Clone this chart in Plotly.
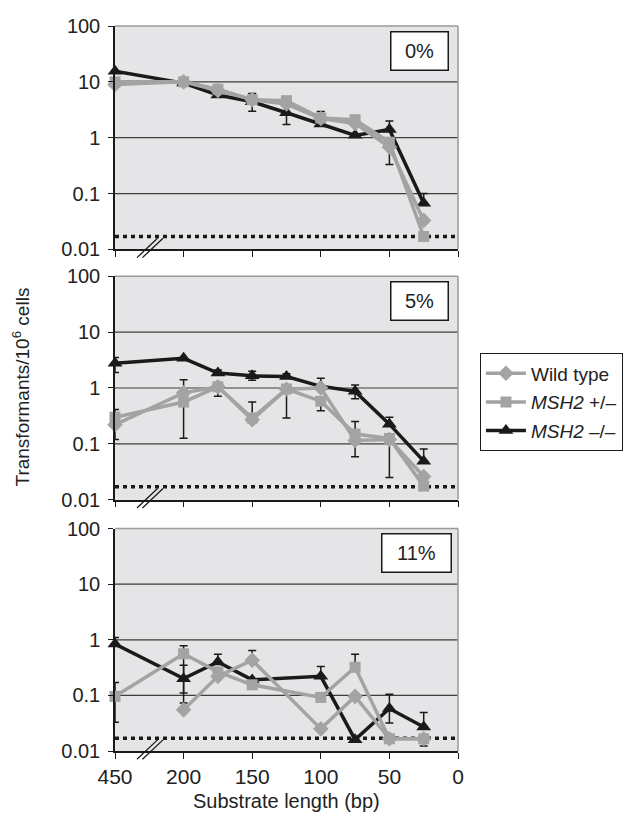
import plotly.graph_objects as go

# ---------------- data ----------------
lengths_bp = [450, 200, 175, 150, 125, 100, 75, 50, 25]
x_tick_bp = [450, 200, 150, 100, 50, 0]
panel_labels = ["0%", "5%", "11%"]
series_names = ["Wild type", "<i>MSH2</i> +/–", "<i>MSH2</i> –/–"]
y_tick_vals = [0.01, 0.1, 1, 10, 100]
y_tick_text = ["0.01", "0.1", "1", "10", "100"]
detection_limit = 0.017

# panel 0 %
wt_0 = [9.0, 10.0, 7.0, 4.8, 4.0, 2.2, 1.8, 0.68, 0.033]
het_0 = [10.0, 10.0, 7.4, 4.8, 4.6, 2.25, 2.1, 0.83, 0.017]
ko_0 = [15.5, 9.5, 5.8, 4.4, 2.8, 1.75, 1.1, 1.4, 0.067]
het_0_hi = [None, None, None, None, None, 2.95, None, None, None]
het_0_lo = [None, None, None, None, None, None, None, 0.33, None]
ko_0_hi = [None, None, None, 6.2, None, None, None, 2.0, 0.1]
ko_0_lo = [None, None, None, 2.96, 1.72, None, None, None, None]

# panel 5 %
wt_5 = [0.22, 0.82, 1.05, 0.27, 0.95, 1.0, 0.115, 0.12, 0.026]
het_5 = [0.30, 0.56, 1.05, 0.29, 0.96, 0.58, 0.15, 0.125, 0.0175]
ko_5 = [2.76, 3.4, 1.85, 1.65, 1.6, 1.07, 0.87, 0.225, 0.049]
het_5_hi = [0.41, 1.4, None, 0.56, None, None, 0.25, None, None]
het_5_lo = [0.12, 0.126, 0.71, None, 0.29, 0.39, 0.059, 0.025, None]
ko_5_hi = [3.5, None, 2.1, 2.0, 1.8, 1.5, 1.13, 0.30, 0.081]
ko_5_lo = [1.9, None, None, 1.38, None, None, 0.64, None, None]

# panel 11 %  (no 125 bp point; wild type has no 450 bp point)
wt_11 = [None, 0.055, 0.22, 0.43, None, 0.025, 0.096, 0.0166, 0.0166]
het_11 = [0.096, 0.56, 0.265, 0.155, None, 0.092, 0.32, 0.0166, 0.0166]
ko_11 = [0.84, 0.2, 0.40, 0.19, None, 0.22, 0.016, 0.058, 0.027]
wt_11_hi = [None, None, None, 0.64, None, None, None, None, None]
het_11_hi = [0.17, 0.78, None, None, None, None, 0.55, None, None]
het_11_lo = [0.033, 0.073, None, None, None, None, None, None, 0.0123]
ko_11_hi = [1.1, 0.35, 0.55, None, None, 0.33, None, 0.105, 0.049]
ko_11_lo = [None, 0.11, None, None, None, None, None, 0.032, None]

NONE9 = [None] * 9
panels = [
    # (wt, het, ko, wt_hi, wt_lo, het_hi, het_lo, ko_hi, ko_lo)
    (wt_0, het_0, ko_0, NONE9, NONE9, het_0_hi, het_0_lo, ko_0_hi, ko_0_lo),
    (wt_5, het_5, ko_5, NONE9, NONE9, het_5_hi, het_5_lo, ko_5_hi, ko_5_lo),
    (wt_11, het_11, ko_11, wt_11_hi, NONE9, het_11_hi, het_11_lo, ko_11_hi, ko_11_lo),
]

# ---------------- styling ----------------
BREAK_POS = 250  # axis position used for the 450 bp point (broken axis)


def axis_pos(bp):
    return BREAK_POS if bp > 200 else bp


x_pos = [axis_pos(v) for v in lengths_bp]
x_tick_pos = [axis_pos(v) for v in x_tick_bp]

GRAY = "#a3a3a3"
BLACK = "#1a1a1a"
FONT = "Liberation Sans, Arial, sans-serif"
TEXT = "#222222"
BG = "#e5e5e7"

domains = [[0.6919, 1.0], [0.3466, 0.6548], [0.0, 0.3068]]


def err(vals, hi, lo):
    plus, minus = [], []
    for v, h, l in zip(vals, hi, lo):
        plus.append(h - v if (v is not None and h is not None) else 0)
        minus.append(v - l if (v is not None and l is not None) else 0)
    return plus, minus


fig = go.Figure()

styles = [
    # name idx, colour, marker symbol, size
    (2, BLACK, "triangle-up", 13),
    (1, GRAY, "square", 11),
    (0, GRAY, "diamond", 12),
]

for p, data in enumerate(panels):
    wt, het, ko, wt_hi, wt_lo, het_hi, het_lo, ko_hi, ko_lo = data
    series = {0: (wt, wt_hi, wt_lo), 1: (het, het_hi, het_lo), 2: (ko, ko_hi, ko_lo)}
    xa = "x" if p == 0 else f"x{p + 1}"
    ya = "y" if p == 0 else f"y{p + 1}"
    for idx, col, sym, size in styles:
        vals, hi, lo = series[idx]
        plus, minus = err(vals, hi, lo)
        fig.add_trace(go.Scatter(
            x=x_pos, y=vals, xaxis=xa, yaxis=ya,
            mode="lines+markers",
            name=series_names[idx],
            legendrank=idx + 1,
            legendgroup=f"g{idx}",
            showlegend=(p == 0),
            connectgaps=True,
            cliponaxis=False,
            line=dict(color=col, width=3.5),
            marker=dict(symbol=sym, size=size, color=col, line=dict(width=0)),
            error_y=dict(type="data", symmetric=False, array=plus, arrayminus=minus,
                         color=BLACK, thickness=1.5, width=4),
            hoverinfo="skip",
        ))

# The page body has an 8px default margin, so the figure is sized 8px smaller.
layout = dict(
    width=629, height=806,
    margin=dict(l=107, r=179, t=7, b=63),
    paper_bgcolor="white",
    font=dict(family=FONT, size=20, color=TEXT),
    showlegend=True,
    legend=dict(x=1.064, y=(742.7 - 339) / 736, xanchor="left", yanchor="top",
                bordercolor=BLACK, borderwidth=1, bgcolor="white",
                font=dict(size=19, color=TEXT), tracegroupgap=1,
                itemwidth=40),
)

shapes = []
annotations = []
for p in range(3):
    sfx = "" if p == 0 else str(p + 1)
    layout[f"xaxis{sfx}"] = dict(
        domain=[0, 1], anchor=f"y{sfx}", range=[BREAK_POS, 0],
        tickmode="array", tickvals=x_tick_pos,
        ticktext=[str(v) for v in x_tick_bp],
        showticklabels=(p == 2), ticks="outside", ticklen=6, tickwidth=1.2,
        tickcolor=BLACK, showline=True, linecolor=BLACK, linewidth=1.5,
        showgrid=False, zeroline=False,
        tickfont=dict(size=21, color=TEXT),
    )
    layout[f"yaxis{sfx}"] = dict(
        domain=domains[p], anchor=f"x{sfx}", type="log", range=[-2, 2],
        tickmode="array", tickvals=y_tick_vals, ticktext=y_tick_text,
        ticks="outside", ticklen=5, tickwidth=1.2, tickcolor=BLACK,
        showline=True, linecolor=BLACK, linewidth=1.5,
        showgrid=False, zeroline=False, ticklabelstandoff=4,
        tickfont=dict(size=20, color=TEXT),
    )
    xr = f"x{sfx}"
    yr = f"y{sfx}"
    # background
    shapes.append(dict(type="rect", xref=f"{xr} domain", yref=f"{yr} domain",
                       x0=0, x1=1, y0=0, y1=1, fillcolor=BG,
                       line=dict(width=0), layer="below"))
    # gridlines at inner decades
    for gv in y_tick_vals[1:-1]:
        shapes.append(dict(type="line", xref=f"{xr} domain", yref=yr,
                           x0=0, x1=1, y0=gv, y1=gv,
                           line=dict(color="#3c3c3c", width=1.2), layer="below"))
    # top & right border in gray
    shapes.append(dict(type="line", xref=f"{xr} domain", yref=f"{yr} domain",
                       x0=0, x1=1, y0=1, y1=1, line=dict(color="#9a9a9a", width=1.5)))
    shapes.append(dict(type="line", xref=f"{xr} domain", yref=f"{yr} domain",
                       x0=1, x1=1, y0=0, y1=1, line=dict(color="#9a9a9a", width=1.5)))
    # detection limit
    shapes.append(dict(type="line", xref=f"{xr} domain", yref=yr,
                       x0=0, x1=1, y0=detection_limit, y1=detection_limit,
                       line=dict(color=BLACK, width=3.5, dash="4px,4px"), layer="below"))
    # axis break marks
    for off in (0, 4):
        shapes.append(dict(type="line", xref=xr, yref=f"{yr} domain",
                           x0=234 - off, x1=219 - off, y0=-0.037, y1=0.05,
                           line=dict(color=BLACK, width=1.3)))
    # panel label
    annotations.append(dict(text=panel_labels[p], xref=f"{xr} domain", yref=f"{yr} domain",
                            x=0.888 if p < 2 else 0.88, y=0.89, xanchor="center", yanchor="middle",
                            showarrow=False, font=dict(size=20, color=TEXT),
                            bgcolor="white", bordercolor=BLACK, borderwidth=1.5,
                            borderpad=6, width=44 if p < 2 else 56, height=25))

annotations.append(dict(text="Transformants/10<sup>6</sup> cells", xref="paper", yref="paper",
                        x=-0.275, y=(742.7 - 373) / 736, xanchor="center", yanchor="middle",
                        textangle=-90, showarrow=False, font=dict(size=19, color=TEXT)))
annotations.append(dict(text="Substrate length (bp)", xref="paper", yref="paper",
                        x=0.5, y=-0.069, xanchor="center", yanchor="middle",
                        showarrow=False, font=dict(size=20, color=TEXT)))

layout["shapes"] = shapes
layout["annotations"] = annotations
layout["plot_bgcolor"] = BG
fig.update_layout(**layout)

fig.write_html("out.html")
